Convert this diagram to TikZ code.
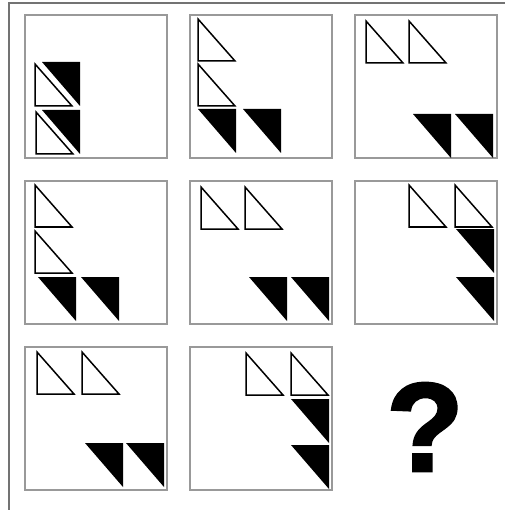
\documentclass[tikz,border=0pt]{standalone}
\usepackage{fontspec}
\setmainfont{Liberation Sans}
\newfontfamily\qmarkfont[FakeBold=2.2]{Liberation Sans Bold}
\tikzset{
  panelbox/.style={draw=black!40, line width=1.2pt},
  frameline/.style={draw=black!55, line width=1.6pt},
  opentri/.style={draw=black, line width=1.5pt, line join=miter, fill=white},
  blacktri/.style={fill=black, draw=none}
}
\newcommand{\mkopen}[2]{\draw[opentri] (#1,#2) -- (#1,#2+42) -- (#1+37,#2+42) -- cycle;}
\newcommand{\mkblack}[2]{\fill[blacktri] (#1,#2) -- (#1+38,#2) -- (#1+38,#2+44) -- cycle;}
\begin{document}
\begin{tikzpicture}[x=1pt,y=-1pt]
\useasboundingbox (0,0) rectangle (505,510);
\fill[white] (0,0) rectangle (505,510);
% outer frame
\draw[frameline] (9,510) -- (9,3) -- (505,3);
% panels
\foreach \px in {25,190,355}{
  \foreach \py in {15,181,347}{
    \ifnum\px=355 \ifnum\py=347 \else
      \draw[panelbox] (\px,\py) rectangle ++(142,143);
    \fi \else
      \draw[panelbox] (\px,\py) rectangle ++(142,143);
    \fi
  }
}
% panel 1
\mkblack{42}{62}
\mkopen{35}{64}
\mkblack{42}{110}
\mkopen{36}{112}
% panel 2
\mkopen{198}{19}
\mkopen{198}{64}
\mkblack{198}{109}
\mkblack{243}{109}
% panel 3
\mkopen{366}{21}
\mkopen{409}{21}
\mkblack{413}{114}
\mkblack{455}{114}
% panel 4
\mkopen{35}{185}
\mkopen{35}{231}
\mkblack{38}{277}
\mkblack{81}{277}
% panel 5
\mkopen{201}{187}
\mkopen{245}{187}
\mkblack{249}{277}
\mkblack{291}{277}
% panel 6
\mkopen{409}{185}
\mkopen{455}{185}
\mkblack{456}{229}
\mkblack{456}{277}
% panel 7
\mkopen{37}{352}
\mkopen{82}{352}
\mkblack{85}{443}
\mkblack{126}{443}
% panel 8
\mkopen{246}{353}
\mkopen{291}{353}
\mkblack{291}{399}
\mkblack{291}{445}
% question mark
\node[font=\qmarkfont\fontsize{126}{126}\selectfont, inner sep=0pt, anchor=base] (q) at (425,471) {?};
\end{tikzpicture}
\end{document}
